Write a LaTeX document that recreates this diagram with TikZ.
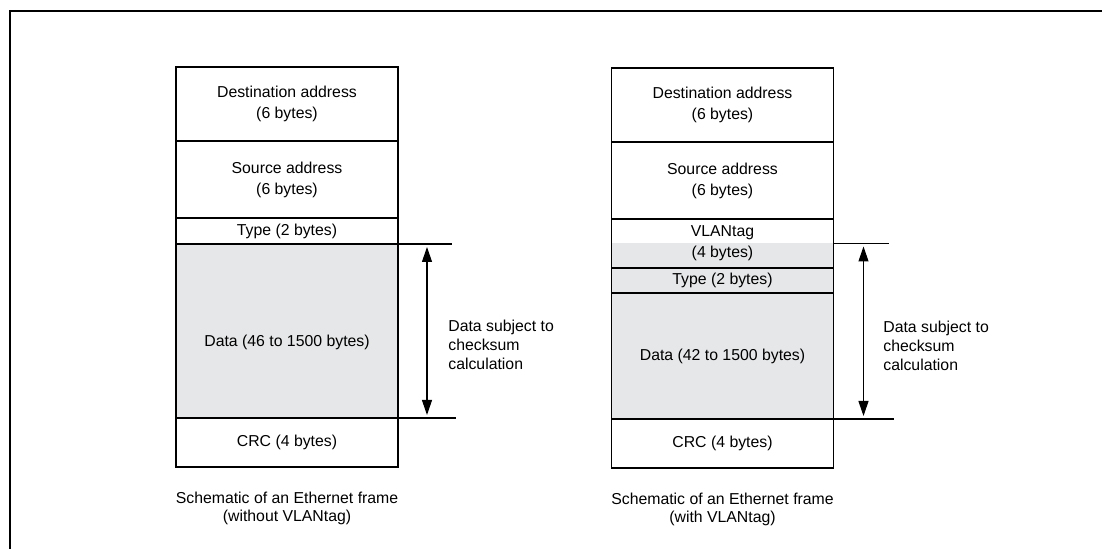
\documentclass[tikz,border=0pt]{standalone}
\usepackage{fontspec}
\setmainfont{Liberation Sans}
\usepackage{xcolor}
\usepackage{tikz}
\usetikzlibrary{positioning, arrows.meta}

\definecolor{fieldgray}{RGB}{230,231,232}

\begin{document}
\begin{tikzpicture}[
  every node/.style={font=\fontsize{9}{12}\selectfont},
  field/.style={draw, line width=0.6pt, minimum width=4.44cm, inner sep=0pt, outer sep=0pt, align=center},
  shaded/.style={field, fill=fieldgray},
  framebox/.style={draw, line width=0.9pt},
  guide/.style={line width=0.6pt},
  dim/.style={{Triangle[length=0.3cm, width=0.2cm]}-{Triangle[length=0.3cm, width=0.2cm]}, line width=0.6pt, shorten <=0.06cm, shorten >=0.06cm},
  note/.style={align=left, anchor=west, inner sep=0pt, font=\fontsize{9}{10.8}\selectfont},
  caption/.style={align=center, inner sep=0pt, font=\fontsize{9}{10}\selectfont}
]
\useasboundingbox (0,0) rectangle (22.04,10.98);

% Outer frame
\draw[line width=1.1pt] (0.2,0) -- (0.2,10.76) -- (22.04,10.76);

% Frame without VLAN tag
\node[field, anchor=north, minimum height=1.48cm] (dstA) at (5.74, 9.64) {Destination address\\(6 bytes)};
\node[field, minimum height=1.54cm, below=0pt of dstA] (srcA) {Source address\\(6 bytes)};
\node[field, minimum height=0.52cm, below=0pt of srcA] (typeA) {Type (2 bytes)};
\node[shaded, minimum height=3.48cm, text height=0.7cm, below=0pt of typeA] (dataA) {Data (46 to 1500 bytes)};
\node[field, minimum height=0.98cm, below=0pt of dataA] (crcA) {CRC (4 bytes)};
\draw[framebox] (dstA.north west) rectangle (crcA.south east);

% Checksum range
\draw[guide] (dataA.north east) -- ++(1.08,0);
\draw[guide] (dataA.south east) -- ++(1.16,0);
\path (dataA.north east) ++(0.58,0) coordinate (chkTopA);
\path (dataA.south east) ++(0.58,0) coordinate (chkBotA);
\draw[dim] (chkTopA) -- (chkBotA);
\node[note] (noteA) at (8.96, 4.08) {Data subject to\\checksum\\calculation};

\node[caption, below=0.5cm of crcA] (capA) {Schematic of an Ethernet frame\\(without VLANtag)};

% Frame with VLAN tag
\node[field, anchor=north, minimum height=1.48cm] (dstB) at (14.45, 9.62) {Destination address\\(6 bytes)};
\node[field, minimum height=1.54cm, below=0pt of dstB] (srcB) {Source address\\(6 bytes)};
\node[field, minimum height=0.98cm, below=0pt of srcB,
      path picture={\fill[fieldgray] (path picture bounding box.west) rectangle (path picture bounding box.south east);}]
      (vlanB) {VLANtag\\(4 bytes)};
\node[shaded, minimum height=0.50cm, below=0pt of vlanB] (typeB) {Type (2 bytes)};
\node[shaded, minimum height=2.52cm, below=0pt of typeB] (dataB) {Data (42 to 1500 bytes)};
\node[field, minimum height=0.98cm, below=0pt of dataB] (crcB) {CRC (4 bytes)};
\draw[framebox] (dstB.north west) rectangle (crcB.south east);

% Checksum range
\draw[guide] (vlanB.east) -- ++(1.10,0);
\draw[guide] (dataB.south east) -- ++(1.20,0);
\path (vlanB.east) ++(0.60,0) coordinate (chkTopB);
\path (dataB.south east) ++(0.60,0) coordinate (chkBotB);
\draw[dim] (chkTopB) -- (chkBotB);
\node[note] (noteB) at (17.66, 4.06) {Data subject to\\checksum\\calculation};

\node[caption, below=0.5cm of crcB] (capB) {Schematic of an Ethernet frame\\(with VLANtag)};

\end{tikzpicture}
\end{document}
